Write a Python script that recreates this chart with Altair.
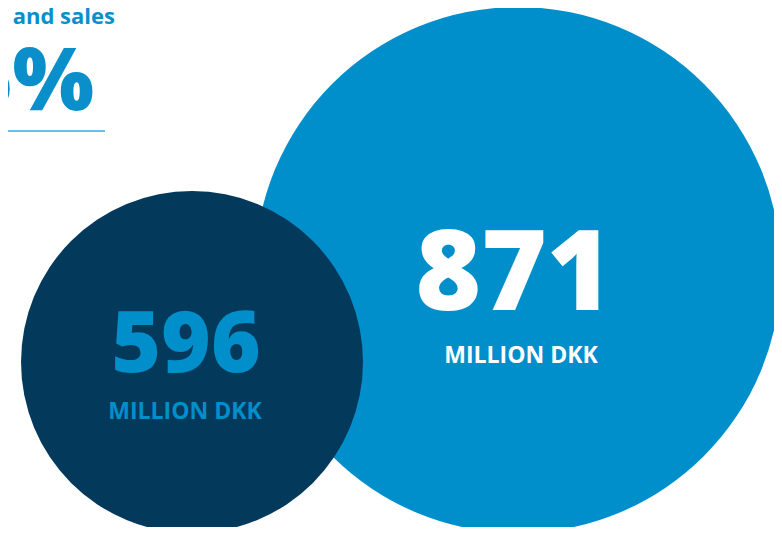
import altair as alt
import pandas as pd

# ---- data ----
labels = ["871", "596"]
values = [871, 596]
units = ["MILLION DKK", "MILLION DKK"]
headline_text = ["n and sales"]
headline_value = ["6%"]

# ---- layout (image pixel coordinates) ----
circle_cx = [518, 192]
circle_cy = [270, 362]
circle_r = [263, 171]
fill_colors = ["#008FCB", "#033A5C"]
num_colors = ["#FFFFFF", "#008FCB"]
num_x = [514, 186]
num_y = [310, 372]
num_size = [112, 85]
unit_x = [521, 185]
unit_y = [363, 419]

W, H = 766, 519
xs = alt.Scale(domain=[8, 8 + W], range=[0, W])
ys = alt.Scale(domain=[8, 8 + H], range=[0, H])

circles = pd.DataFrame({
    "label": labels, "value": values,
    "cx": circle_cx, "cy": circle_cy,
    "area": [(2 * r) ** 2 for r in circle_r],
    "fill": fill_colors,
    "order": [0, 1],
})
nums = pd.DataFrame({
    "label": labels, "x": num_x, "y": num_y, "size": num_size, "color": num_colors,
})
unit_df = pd.DataFrame({
    "unit": units, "x": unit_x, "y": unit_y,
    "color": ["#FFFFFF", "#008FCB"],
})

base_x = lambda f: alt.X(f, type="quantitative", scale=xs, axis=None)
base_y = lambda f: alt.Y(f, type="quantitative", scale=ys, axis=None)

circle_layer = alt.Chart(circles).mark_circle(opacity=1, strokeWidth=0).encode(
    x=base_x("cx"), y=base_y("cy"),
    size=alt.Size("area:Q", scale=None, legend=None),
    color=alt.Color("fill:N", scale=None, legend=None),
    order=alt.Order("order:Q"),
)

big_num = alt.Chart(nums.iloc[[0]]).mark_text(
    font="Open Sans", fontWeight=800, fontSize=num_size[0], align="center", baseline="alphabetic"
).encode(x=base_x("x"), y=base_y("y"), text="label:N",
         color=alt.Color("color:N", scale=None, legend=None))

small_num = alt.Chart(nums.iloc[[1]]).mark_text(
    font="Open Sans", fontWeight=800, fontSize=num_size[1], align="center", baseline="alphabetic"
).encode(x=base_x("x"), y=base_y("y"), text="label:N",
         color=alt.Color("color:N", scale=None, legend=None))

unit_layer = alt.Chart(unit_df).mark_text(
    font="Open Sans", fontWeight="bold", fontSize=23, align="center", baseline="alphabetic"
).encode(x=base_x("x"), y=base_y("y"), text="unit:N",
         color=alt.Color("color:N", scale=None, legend=None))

head_df = pd.DataFrame({"t": headline_text, "x": [115], "y": [24]})
head = alt.Chart(head_df).mark_text(
    font="Open Sans", fontWeight="bold", fontSize=22, align="right", baseline="alphabetic",
    color="#0A8FCB"
).encode(x=base_x("x"), y=base_y("y"), text="t:N")

pct_df = pd.DataFrame({"t": headline_value, "x": [94], "y": [110]})
pct = alt.Chart(pct_df).mark_text(
    font="Open Sans", fontWeight=800, fontSize=86, align="right", baseline="alphabetic",
    color="#0A8FCB"
).encode(x=base_x("x"), y=base_y("y"), text="t:N")

rule_df = pd.DataFrame({"x": [8], "x2": [105], "y": [131]})
rule = alt.Chart(rule_df).mark_rule(color="#6DBDE2", strokeWidth=2).encode(
    x=base_x("x"), x2="x2:Q", y=base_y("y"))

chart = alt.layer(circle_layer, rule, head, pct, big_num, small_num, unit_layer).properties(
    width=W, height=H, padding=0,
    autosize=alt.AutoSizeParams(type="none"),
).configure_view(stroke=None)

chart.save("out.html", embed_options={"renderer": "svg", "actions": False})
